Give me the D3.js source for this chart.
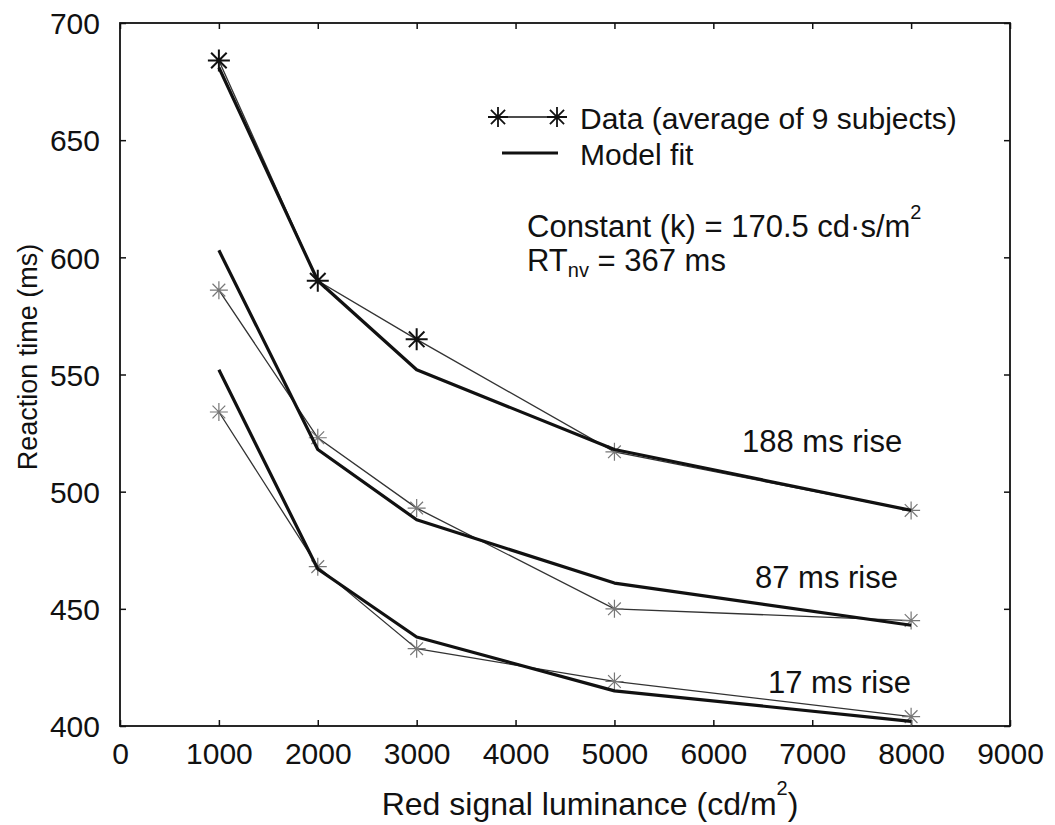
<!DOCTYPE html>
<meta charset="utf-8">
<html>
<head>
  <title>Reaction time vs red signal luminance</title>
  <style type="text/css">
    body{margin:0; background:#fff;}
    text{font-family:"Liberation Sans", Arial, sans-serif; fill:#111;}
  </style>
</head>
<body>
  <script src="https://cdn.jsdelivr.net/npm/d3@7"></script>
  <script>
    // luminance levels (cd/m2)
    var luminance = [1000, 2000, 3000, 5000, 8000];

    // measured reaction times (ms), average of 9 subjects
    var data188 = [684, 590, 565, 517, 492];
    var data87  = [586, 523, 493, 450, 445];
    var data17  = [534, 468, 433, 419, 404];

    // model fit
    var fit188 = [681, 590, 552, 518, 492];
    var fit87  = [603, 518, 488, 461, 443];
    var fit17  = [552, 467, 438, 415, 402];

    var riseLabels = ['188 ms rise', '87 ms rise', '17 ms rise'];
    var xTicks = d3.range(0, 9001, 1000);
    var yTicks = d3.range(400, 701, 50);

    var width = 1055,
        height = 825;
    var margin = {left:120, right:45, top:23, bottom:99};

    var svg = d3.select('body')
        .append('svg')
        .attr('width', width)
        .attr('height', height);

    var x = d3.scaleLinear().domain([0, 9000]).range([margin.left, width - margin.right]);
    var y = d3.scaleLinear().domain([400, 700]).range([height - margin.bottom, margin.top]);

    // frame
    svg.append('rect')
      .attr('x', x(0)).attr('y', y(700))
      .attr('width', x(9000) - x(0)).attr('height', y(400) - y(700))
      .attr('fill', 'none').attr('stroke', '#111').attr('stroke-width', 1.8);

    // axes with inward ticks
    var fmt = d3.format('d');
    var axBottom = svg.append('g')
      .attr('transform', 'translate(0,' + y(400) + ')')
      .call(d3.axisBottom(x).tickValues(xTicks).tickFormat(fmt).tickSizeInner(-6).tickSizeOuter(0).tickPadding(12));
    var axTop = svg.append('g')
      .attr('transform', 'translate(0,' + y(700) + ')')
      .call(d3.axisTop(x).tickValues(xTicks).tickSizeInner(-6).tickSizeOuter(0).tickFormat(''));
    var axLeft = svg.append('g')
      .attr('transform', 'translate(' + x(0) + ',0)')
      .call(d3.axisLeft(y).tickValues(yTicks).tickFormat(fmt).tickSizeInner(-6).tickSizeOuter(0).tickPadding(20));
    var axRight = svg.append('g')
      .attr('transform', 'translate(' + x(9000) + ',0)')
      .call(d3.axisRight(y).tickValues(yTicks).tickSizeInner(-6).tickSizeOuter(0).tickFormat(''));

    [axBottom, axTop, axLeft, axRight].forEach(function(g){
      g.select('.domain').remove();
      g.selectAll('line').attr('stroke', '#111').attr('stroke-width', 1.5);
      g.selectAll('text').style('font-size', '30px').attr('fill', '#111')
        .style('font-family', '"Liberation Sans", Arial, sans-serif');
    });
    axBottom.selectAll('text').attr('dy', '0.85em');
    axLeft.selectAll('text').attr('dy', '0.36em');

    // axis titles
    var xl = svg.append('text')
      .attr('x', 590).attr('y', 815)
      .attr('text-anchor', 'middle')
      .style('font-size', '32px');
    xl.append('tspan').text('Red signal luminance (cd/m');
    xl.append('tspan').text('2').style('font-size', '20px').attr('dy', -20);
    xl.append('tspan').text(')').attr('dy', 20);

    svg.append('text')
      .attr('transform', 'translate(37,357) rotate(-90)')
      .attr('text-anchor', 'middle')
      .style('font-size', '27px')
      .text('Reaction time (ms)');

    var line = d3.line()
      .x(function(d){return x(d[0])})
      .y(function(d){return y(d[1])});

    function star(r){
      var a = r * Math.SQRT1_2;
      return 'M' + (-r) + ',0L' + r + ',0M0,' + (-r) + 'L0,' + r +
        'M' + (-a) + ',' + (-a) + 'L' + a + ',' + a +
        'M' + (-a) + ',' + a + 'L' + a + ',' + (-a);
    }

    var dataSets = [data188, data87, data17];
    var fitSets = [fit188, fit87, fit17];

    dataSets.forEach(function(vals, i){
      var pts = luminance.map(function(l, j){return [l, vals[j]]});
      svg.append('path')
        .attr('d', line(pts))
        .attr('fill', 'none')
        .attr('stroke', '#333')
        .attr('stroke-width', 1.3);
      // the first stars of the top series print dark, the rest are faint
      svg.selectAll('.star' + i)
        .data(pts)
        .enter()
        .append('path')
        .attr('transform', function(d){return 'translate(' + x(d[0]) + ',' + y(d[1]) + ')'})
        .attr('d', function(d, j){return star(i === 0 && j < 3 ? 11 : 9)})
        .attr('stroke', function(d, j){return i === 0 && j < 3 ? '#111' : '#777'})
        .attr('stroke-width', function(d, j){return i === 0 && j < 3 ? 2 : 1.2})
        .attr('fill', 'none');
    });

    fitSets.forEach(function(vals){
      svg.append('path')
        .attr('d', line(luminance.map(function(l, j){return [l, vals[j]]})))
        .attr('fill', 'none')
        .attr('stroke', '#111')
        .attr('stroke-width', 3.2)
        .attr('stroke-linejoin', 'round');
    });

    // legend
    svg.append('line').attr('x1', 498).attr('x2', 557).attr('y1', 117).attr('y2', 117)
      .attr('stroke', '#111').attr('stroke-width', 1.5);
    [498, 557].forEach(function(cx){
      svg.append('path').attr('d', star(10)).attr('transform', 'translate(' + cx + ',117)')
        .attr('stroke', '#111').attr('stroke-width', 1.8).attr('fill', 'none');
    });
    svg.append('text').attr('x', 580).attr('y', 129).style('font-size', '30px')
      .text('Data (average of 9 subjects)');
    svg.append('line').attr('x1', 502).attr('x2', 558).attr('y1', 153).attr('y2', 153)
      .attr('stroke', '#111').attr('stroke-width', 3);
    svg.append('text').attr('x', 580).attr('y', 165).style('font-size', '30px')
      .text('Model fit');

    var k = svg.append('text').attr('x', 527).attr('y', 237).style('font-size', '31px');
    k.append('tspan').text('Constant (k) =  170.5 cd\u00b7s/m');
    k.append('tspan').text('2').style('font-size', '20px').attr('dy', -18);

    var rt = svg.append('text').attr('x', 527).attr('y', 271).style('font-size', '31px');
    rt.append('tspan').text('RT');
    rt.append('tspan').text('nv').style('font-size', '20px').attr('dy', 6);
    rt.append('tspan').text(' = 367 ms').attr('dy', -6);

    // rise labels
    var risePos = [[742, 452], [755, 588], [768, 693]];
    riseLabels.forEach(function(t, i){
      svg.append('text')
        .attr('x', risePos[i][0]).attr('y', risePos[i][1])
        .style('font-size', '31px')
        .text(t);
    });
  </script>
</body>
</html>
